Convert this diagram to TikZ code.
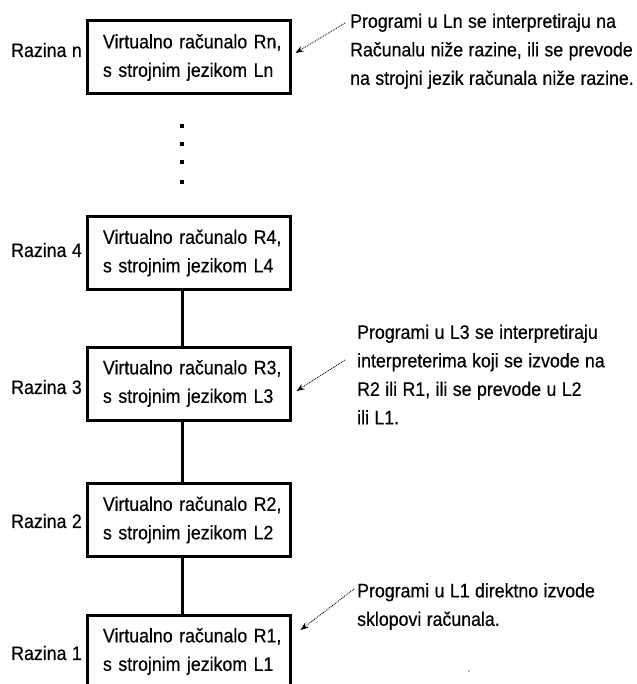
\documentclass[tikz,border=0pt]{standalone}
\usepackage{fontspec}
\setmainfont[FakeStretch=0.91,WordSpace=1.1,FakeBold=0.4]{Liberation Sans}
\usetikzlibrary{arrows.meta,calc}
% indentation of the text inside a machine box
\newcommand\boxindent{\hspace*{14.5pt}}
\begin{document}
\begin{tikzpicture}[x=1pt,y=-1pt,
  every node/.style={font=\fontsize{19.5}{28.5}\selectfont, inner sep=0pt},
  vmbox/.style={draw, line width=3pt, minimum width=203pt, minimum height=73pt,
                text width=200pt, align=left},
  level/.style={anchor=east},
  note/.style={anchor=north west, align=left},
  spine/.style={line width=3pt},
  pointer/.style={densely dotted, line width=0.9pt, -{Stealth[length=8pt,width=6pt]}},
  vdot/.style={fill=black}
]
\useasboundingbox (0,0) rectangle (636,684);
\fill[white] (0,0) rectangle (636,684);
\clip (0,0) rectangle (636,684);

% x position of the vertical line joining the levels
\coordinate (sp) at (182,0);

% virtual machines, one per level
\node[vmbox] (bn) at (188.5,57.5)  {\boxindent Virtualno računalo Rn,\\\boxindent s strojnim jezikom Ln};
\node[vmbox] (b4) at (188.5,253)   {\boxindent Virtualno računalo R4,\\\boxindent s strojnim jezikom L4};
\node[vmbox] (b3) at (188.5,383.5) {\boxindent Virtualno računalo R3,\\\boxindent s strojnim jezikom L3};
\node[vmbox] (b2) at (188.5,520)   {\boxindent Virtualno računalo R2,\\\boxindent s strojnim jezikom L2};
\node[vmbox] (b1) at (188.5,651.5) {\boxindent Virtualno računalo R1,\\\boxindent s strojnim jezikom L1};

% level names
\node[level] (ln) at (82,50)  {Razina n};
\node[level] (l4) at (82,250) {Razina 4};
\node[level] (l3) at (82,387) {Razina 3};
\node[level] (l2) at (82,521) {Razina 2};
\node[level] (l1) at (82,653) {Razina 1};

% omitted levels
\fill[vdot] (180.2,124) rectangle ++(3.6,4.4);
\fill[vdot] (180.2,142) rectangle ++(3.6,4.4);
\fill[vdot] (180.2,160) rectangle ++(3.6,4.4);
\fill[vdot] (180.2,180) rectangle ++(3.6,4.4);

% links between neighbouring levels
\draw[spine] (b4.south -| sp) -- (b3.north -| sp);
\draw[spine] (b3.south -| sp) -- (b2.north -| sp);
\draw[spine] (b2.south -| sp) -- (b1.north -| sp);

% explanations
\node[note] (nn) at (350,13.5) {Programi u Ln se interpretiraju na\\Računalu niže razine, ili se prevode\\na strojni jezik računala niže razine.};
\node[note] (n3) at (357,324.5) {Programi u L3 se interpretiraju\\interpreterima koji se izvode na\\R2 ili R1, ili se prevode u L2\\ili L1.};
\node[note] (n1) at (357,583) {Programi u L1 direktno izvode\\sklopovi računala.};

\coordinate (tn) at (345,23);
\coordinate (t3) at (345,360);
\coordinate (t1) at (354,589);
\draw[pointer] (tn) -- ($(bn.east)+(4,-4.5)$);
\draw[pointer] (t3) -- ($(b3.east)+(5,7.5)$);
\draw[pointer] (t1) -- ($(b1.east)+(9,-21.5)$);

\fill[black!55] (469,671) circle (0.8);
\end{tikzpicture}
\end{document}
